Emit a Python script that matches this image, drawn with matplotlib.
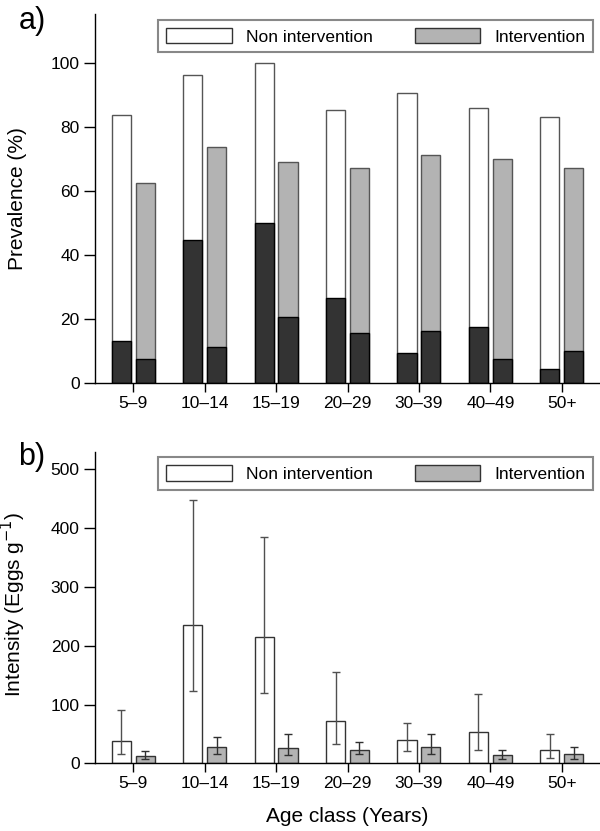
import numpy as np
import matplotlib
matplotlib.use("Agg")
import matplotlib.pyplot as plt
import matplotlib.patches as mpatches

plt.rcParams["font.family"] = ["Liberation Sans", "DejaVu Sans"]

# données
age_classes = ["5–9", "10–14", "15–19", "20–29", "30–39", "40–49", "50+"]

prev_non = [84.0, 96.3, 100.0, 85.3, 90.6, 86.2, 83.3]
prev_non_dark = [13.1, 44.6, 50.1, 26.5, 9.4, 17.3, 4.3]
prev_int = [62.5, 73.8, 69.2, 67.3, 71.2, 70.0, 67.4]
prev_int_dark = [7.5, 11.3, 20.5, 15.5, 16.3, 7.5, 10.0]

int_non = [38.5, 234.7, 214.3, 71.4, 39.1, 52.7, 22.1]
int_non_lo = [15.3, 123.0, 119.0, 32.3, 21.5, 23.2, 9.6]
int_non_hi = [90.0, 448.0, 385.5, 155.9, 69.2, 117.9, 50.5]
int_int = [12.5, 27.2, 26.6, 23.2, 28.3, 13.6, 16.4]
int_int_lo = [6.8, 15.9, 14.2, 15.3, 15.9, 7.4, 7.9]
int_int_hi = [21.0, 45.4, 49.3, 35.7, 50.5, 22.7, 27.8]

WHITE = "#ffffff"
GREY = "#b3b3b3"
DARK = "#333333"
EDGE = "#555555"

x = np.arange(len(age_classes))
w = 0.27
off = 0.167

fig = plt.figure(figsize=(6.0, 8.31), dpi=100)
W, H = 600, 831


def axes_px(left, top, right, bottom):
    return fig.add_axes([left / W, 1 - bottom / H, (right - left) / W, (bottom - top) / H])


def style_axes(ax):
    for s in ["top", "right"]:
        ax.spines[s].set_visible(False)
    ax.spines["left"].set_linewidth(1.0)
    ax.spines["bottom"].set_linewidth(1.0)
    ax.tick_params(direction="out", width=1, labelsize=12.5, pad=3)
    ax.tick_params(axis="x", length=6.5)
    ax.tick_params(axis="y", length=8)
    ax.set_xticks(x)
    ax.set_xticklabels(age_classes)
    ax.set_xlim(-0.538, 6.536)


def add_legend(ax, y0, h):
    handles = [
        mpatches.Patch(facecolor=WHITE, edgecolor="#333333", lw=1, label="Non intervention"),
        mpatches.Patch(facecolor=GREY, edgecolor="#333333", lw=1, label="Intervention"),
    ]
    leg = ax.legend(handles=handles, loc="center", ncol=2, mode="expand",
                    bbox_to_anchor=(0.1255, y0, 0.861, h), fontsize=12.5,
                    handlelength=3.8, handleheight=1.0, handletextpad=0.8,
                    borderaxespad=0, borderpad=0.45, columnspacing=2.0,
                    fancybox=False, framealpha=1)
    leg.get_frame().set_edgecolor("#888888")
    leg.get_frame().set_linewidth(1.5)


# a) Prévalence
ax1 = axes_px(94.9, 14, 600, 382.7)
ax1.bar(x - off, prev_non, w, color=WHITE, edgecolor=EDGE, lw=1)
ax1.bar(x - off, prev_non_dark, w, color=DARK, edgecolor="black", lw=1)
ax1.bar(x + off, prev_int, w, color=GREY, edgecolor=EDGE, lw=1)
ax1.bar(x + off, prev_int_dark, w, color=DARK, edgecolor="black", lw=1)
style_axes(ax1)
ax1.set_ylim(0, 115.5)
ax1.set_yticks([0, 20, 40, 60, 80, 100])
ax1.set_ylabel("Prevalence (%)", fontsize=15)
ax1.yaxis.set_label_coords(-0.135, 0.5)
add_legend(ax1, 0.8934, 0.0922)

# b) Intensité
ax2 = axes_px(94.9, 451.7, 600, 763.3)
ax2.bar(x - off, int_non, w, color=WHITE, edgecolor="#333333", lw=1)
ax2.bar(x + off, int_int, w, color=GREY, edgecolor="#333333", lw=1)
err_non = [np.array(int_non) - np.array(int_non_lo), np.array(int_non_hi) - np.array(int_non)]
err_int = [np.array(int_int) - np.array(int_int_lo), np.array(int_int_hi) - np.array(int_int)]
ax2.errorbar(x - off, int_non, yerr=err_non, fmt="none", ecolor="#505050", elinewidth=1,
             capsize=3.2, capthick=1)
ax2.errorbar(x + off, int_int, yerr=err_int, fmt="none", ecolor="#303030", elinewidth=1,
             capsize=3.2, capthick=1)
style_axes(ax2)
ax2.set_ylim(0, 530)
ax2.set_yticks([0, 100, 200, 300, 400, 500])
ax2.set_ylabel("Intensity (Eggs g$^{-1}$)", fontsize=15)
ax2.yaxis.set_label_coords(-0.132, 0.51)
ax2.set_xlabel("Age class (Years)", fontsize=15)
ax2.xaxis.set_label_coords(0.499, -0.140)
add_legend(ax2, 0.877, 0.105)

fig.text(19 / W, 1 - 28.5 / H, "a)", fontsize=22, va="baseline", ha="left")
fig.text(18 / W, 1 - 465 / H, "b)", fontsize=22, va="baseline", ha="left")

fig.savefig("out.png", dpi=100)
